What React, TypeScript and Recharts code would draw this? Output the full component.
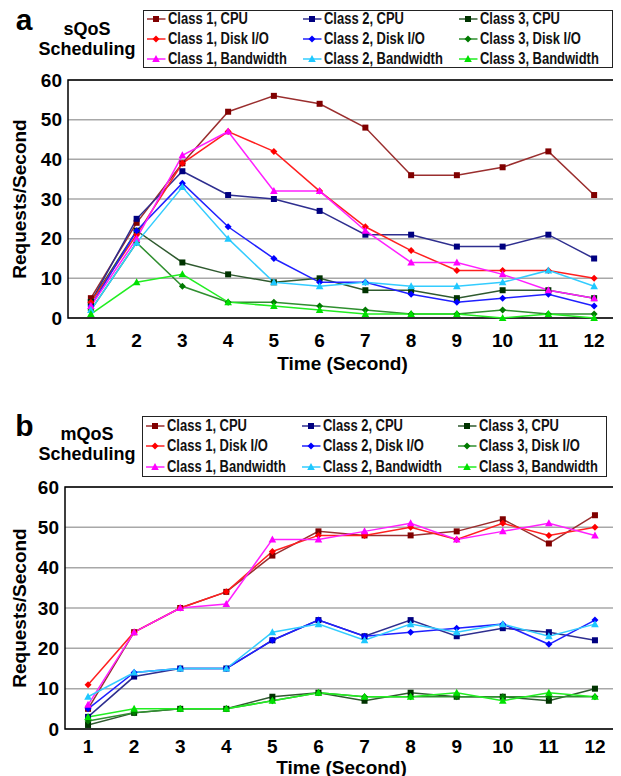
import React from "react";
import { LineChart, Line, XAxis, YAxis, CartesianGrid, Legend, ReferenceArea } from "recharts";

const TIME = [1, 2, 3, 4, 5, 6, 7, 8, 9, 10, 11, 12];
const Y_TICKS = [0, 10, 20, 30, 40, 50, 60];
const X_MARKS = [1.5, 2.5, 3.5, 4.5, 5.5, 6.5, 7.5, 8.5, 9.5, 10.5, 11.5];

// panel a: sQoS scheduling
const SQOS_C1_CPU = [5, 24, 39, 52, 56, 54, 48, 36, 36, 38, 42, 31];
const SQOS_C2_CPU = [4, 25, 37, 31, 30, 27, 21, 21, 18, 18, 21, 15];
const SQOS_C3_CPU = [4, 22, 14, 11, 9, 10, 7, 7, 5, 7, 7, 5];
const SQOS_C1_DISK = [4, 21, 39, 47, 42, 32, 23, 17, 12, 12, 12, 10];
const SQOS_C2_DISK = [3, 22, 34, 23, 15, 9, 9, 6, 4, 5, 6, 3];
const SQOS_C3_DISK = [2, 19, 8, 4, 4, 3, 2, 1, 1, 2, 1, 1];
const SQOS_C1_BW = [3, 20, 41, 47, 32, 32, 22, 14, 14, 11, 7, 5];
const SQOS_C2_BW = [2, 19, 33, 20, 9, 8, 9, 8, 8, 9, 12, 8];
const SQOS_C3_BW = [1, 9, 11, 4, 3, 2, 1, 1, 1, 0, 1, 0];

// panel b: mQoS scheduling
const MQOS_C1_CPU = [5, 24, 30, 34, 43, 49, 48, 48, 49, 52, 46, 53];
const MQOS_C2_CPU = [3, 13, 15, 15, 22, 27, 23, 27, 23, 25, 24, 22];
const MQOS_C3_CPU = [1, 4, 5, 5, 8, 9, 7, 9, 8, 8, 7, 10];
const MQOS_C1_DISK = [11, 24, 30, 34, 44, 48, 48, 50, 47, 51, 48, 50];
const MQOS_C2_DISK = [5, 14, 15, 15, 22, 27, 23, 24, 25, 26, 21, 27];
const MQOS_C3_DISK = [2, 4, 5, 5, 7, 9, 8, 8, 8, 8, 8, 8];
const MQOS_C1_BW = [6, 24, 30, 31, 47, 47, 49, 51, 47, 49, 51, 48];
const MQOS_C2_BW = [8, 14, 15, 15, 24, 26, 22, 26, 24, 26, 23, 26];
const MQOS_C3_BW = [3, 5, 5, 5, 7, 9, 8, 8, 9, 7, 9, 8];

const SERIES = [
  { key: "c1cpu", name: "Class 1, CPU", line: "#9a2e2e", mark: "#800000", shape: "square" },
  { key: "c2cpu", name: "Class 2, CPU", line: "#2e2e8f", mark: "#000080", shape: "square" },
  { key: "c3cpu", name: "Class 3, CPU", line: "#2f5a2f", mark: "#003300", shape: "square" },
  { key: "c1disk", name: "Class 1, Disk I/O", line: "#ff2020", mark: "#ff0000", shape: "diamond" },
  { key: "c2disk", name: "Class 2, Disk I/O", line: "#2020ff", mark: "#0000ff", shape: "diamond" },
  { key: "c3disk", name: "Class 3, Disk I/O", line: "#2f8f2f", mark: "#007a00", shape: "diamond" },
  { key: "c1bw", name: "Class 1, Bandwidth", line: "#ff20ff", mark: "#ff00ff", shape: "triangle" },
  { key: "c2bw", name: "Class 2, Bandwidth", line: "#33ccff", mark: "#1ec8ff", shape: "triangle" },
  { key: "c3bw", name: "Class 3, Bandwidth", line: "#22ee22", mark: "#00e000", shape: "triangle" },
];

const buildRows = (cols: Record<string, number[]>) =>
  TIME.map((t, i) => {
    const row: any = { t };
    Object.keys(cols).forEach((k) => (row[k] = cols[k][i]));
    return row;
  });

const sqosData = buildRows({
  c1cpu: SQOS_C1_CPU, c2cpu: SQOS_C2_CPU, c3cpu: SQOS_C3_CPU,
  c1disk: SQOS_C1_DISK, c2disk: SQOS_C2_DISK, c3disk: SQOS_C3_DISK,
  c1bw: SQOS_C1_BW, c2bw: SQOS_C2_BW, c3bw: SQOS_C3_BW,
});

const mqosData = buildRows({
  c1cpu: MQOS_C1_CPU, c2cpu: MQOS_C2_CPU, c3cpu: MQOS_C3_CPU,
  c1disk: MQOS_C1_DISK, c2disk: MQOS_C2_DISK, c3disk: MQOS_C3_DISK,
  c1bw: MQOS_C1_BW, c2bw: MQOS_C2_BW, c3bw: MQOS_C3_BW,
});

const FONT = "'Liberation Sans', Arial, sans-serif";

function marker(shape: string, fill: string, cx: number, cy: number) {
  if (shape === "square") return <rect x={cx - 3} y={cy - 3} width={6} height={6} fill={fill} />;
  if (shape === "diamond")
    return <polygon points={`${cx},${cy - 3.5} ${cx + 3.5},${cy} ${cx},${cy + 3.5} ${cx - 3.5},${cy}`} fill={fill} />;
  return <polygon points={`${cx},${cy - 4} ${cx + 3.8},${cy + 3} ${cx - 3.8},${cy + 3}`} fill={fill} />;
}

const dotFor = (s: any) => (p: any) => {
  if (p.cx == null || p.cy == null) return <g key={`${s.key}-${p.index}`} />;
  return <g key={`${s.key}-${p.index}`}>{marker(s.shape, s.mark, p.cx, p.cy)}</g>;
};

// legend text in the source is a condensed bold face; squeeze Liberation Sans Bold to match
const LegendBox = ({ w, h, rowH, shiftY }: { w: number; h: number; rowH: number; shiftY: number }) => (
  <div
    style={{
      boxSizing: "border-box",
      width: w,
      height: h,
      border: "1.5px solid #222",
      background: "#fff",
      fontFamily: FONT,
      fontWeight: "bold",
      fontSize: 16,
      color: "#111",
      overflow: "hidden",
    }}
  >
    <div
      style={{
        display: "grid",
        gridTemplateColumns: "156px 156px 156px",
        gridAutoRows: rowH,
        marginTop: shiftY,
      }}
    >
      {SERIES.map((s) => (
        <div key={s.key} style={{ display: "flex", alignItems: "center", whiteSpace: "nowrap", overflow: "visible" }}>
          <svg width={21} height={10} style={{ paddingLeft: 2.5, flex: "none" }}>
            <line x1={0} x2={19} y1={5} y2={5} stroke={s.line} strokeWidth={1.5} />
            {marker(s.shape, s.mark, 9.5, 5)}
          </svg>
          <span style={{ display: "inline-block", transform: "scaleX(0.81)", transformOrigin: "left center" }}>
            {s.name}
          </span>
        </div>
      ))}
    </div>
  </div>
);

const makeYTitle = (dx: number) => (props: any) => {
  const vb = props.viewBox;
  const x = vb.x + dx;
  const y = vb.y + vb.height / 2;
  return (
    <text
      x={x}
      y={y}
      transform={`rotate(-90, ${x}, ${y})`}
      textAnchor="middle"
      dominantBaseline="central"
      fill="#000"
      fontSize={19}
      fontWeight="bold"
    >
      Requests/Second
    </text>
  );
};

interface PanelProps {
  letter: string;
  title: string;
  data: any[];
  height: number;
  margin: { top: number; right: number; bottom: number; left: number };
  xAxisHeight: number;
  tickMargin: number;
  titleOffset: number;
  yTitleDx: number;
  letterPos: [number, number];
  titlePos: [number, number, number];
  legendBox: { left: number; top: number; width: number; height: number; rowH: number; shiftY: number };
}

function Panel(p: PanelProps) {
  const tickStyle = { fontSize: 19, fontWeight: "bold", fill: "#000" };
  const YTitle = makeYTitle(p.yTitleDx);
  return (
    <div style={{ position: "relative", width: 613, height: p.height, fontFamily: FONT }}>
      <div
        style={{
          position: "absolute",
          left: p.letterPos[0],
          top: p.letterPos[1],
          transform: "translate(-50%, -50%)",
          fontSize: 30,
          fontWeight: "bold",
          lineHeight: 1,
        }}
      >
        {p.letter}
      </div>
      <div
        style={{
          position: "absolute",
          left: p.titlePos[0],
          top: p.titlePos[1],
          transform: "translate(-50%, -50%)",
          fontSize: 18,
          fontWeight: "bold",
          lineHeight: 1,
          whiteSpace: "nowrap",
        }}
      >
        {p.title}
      </div>
      <div
        style={{
          position: "absolute",
          left: p.titlePos[0],
          top: p.titlePos[2],
          transform: "translate(-50%, -50%)",
          fontSize: 18,
          fontWeight: "bold",
          lineHeight: 1,
        }}
      >
        Scheduling
      </div>
      <LineChart width={613} height={p.height} data={p.data} margin={p.margin}>
        <CartesianGrid vertical={false} stroke="#a8a8a8" strokeWidth={1.5} />
        <XAxis
          dataKey="t"
          type="number"
          domain={[0.5, 12.5]}
          ticks={TIME}
          interval={0}
          axisLine={false}
          tickLine={false}
          tickSize={6}
          tickMargin={p.tickMargin}
          height={p.xAxisHeight}
          tick={tickStyle}
          label={{
            value: "Time (Second)",
            position: "insideBottom",
            offset: p.titleOffset,
            fill: "#000",
            fontSize: 19,
            fontWeight: "bold",
          }}
        />
        <XAxis
          xAxisId="marks"
          dataKey="t"
          type="number"
          domain={[0.5, 12.5]}
          ticks={X_MARKS}
          interval={0}
          mirror
          height={0}
          axisLine={false}
          tick={false}
          tickSize={5}
          tickLine={{ stroke: "#9a9a9a", strokeWidth: 1 }}
        />
        <YAxis
          domain={[0, 60]}
          ticks={Y_TICKS}
          interval={0}
          width={60}
          axisLine={false}
          tickLine={false}
          tickSize={4}
          tickMargin={2}
          tick={tickStyle}
          label={<YTitle />}
        />
        <ReferenceArea x1={0.5} x2={12.5} y1={0} y2={60} fill="none" stroke="#000" strokeWidth={1.5} />
        <Legend
          layout="vertical"
          align="center"
          verticalAlign="middle"
          wrapperStyle={{
            position: "absolute",
            left: p.legendBox.left,
            top: p.legendBox.top,
            width: p.legendBox.width,
            height: p.legendBox.height,
          }}
          content={() => (
            <LegendBox
              w={p.legendBox.width}
              h={p.legendBox.height}
              rowH={p.legendBox.rowH}
              shiftY={p.legendBox.shiftY}
            />
          )}
        />
        {SERIES.map((s) => (
          <Line
            key={s.key}
            type="linear"
            dataKey={s.key}
            name={s.name}
            stroke={s.line}
            strokeWidth={1.5}
            dot={dotFor(s)}
            activeDot={false}
            isAnimationActive={false}
          />
        ))}
      </LineChart>
    </div>
  );
}

export default function App() {
  return (
    <div style={{ width: 613 }}>
      <Panel
        letter="a"
        title="sQoS"
        data={sqosData}
        height={380}
        margin={{ top: 72, right: 4, bottom: 10, left: 0 }}
        xAxisHeight={60}
        tickMargin={10}
        titleOffset={8}
        yTitleDx={11.5}
        letterPos={[16, 12]}
        titlePos={[79, 21, 40.5]}
        legendBox={{ left: 135, top: 2, width: 470, height: 58, rowH: 20, shiftY: -2 }}
      />
      <Panel
        letter="b"
        title="mQoS"
        data={mqosData}
        height={388}
        margin={{ top: 99, right: 3, bottom: 0, left: -3 }}
        xAxisHeight={47}
        tickMargin={5}
        titleOffset={2.5}
        yTitleDx={14.5}
        letterPos={[16.5, 38]}
        titlePos={[79, 46, 66]}
        legendBox={{ left: 134, top: 28, width: 465, height: 61, rowH: 20.5, shiftY: -1.5 }}
      />
    </div>
  );
}
